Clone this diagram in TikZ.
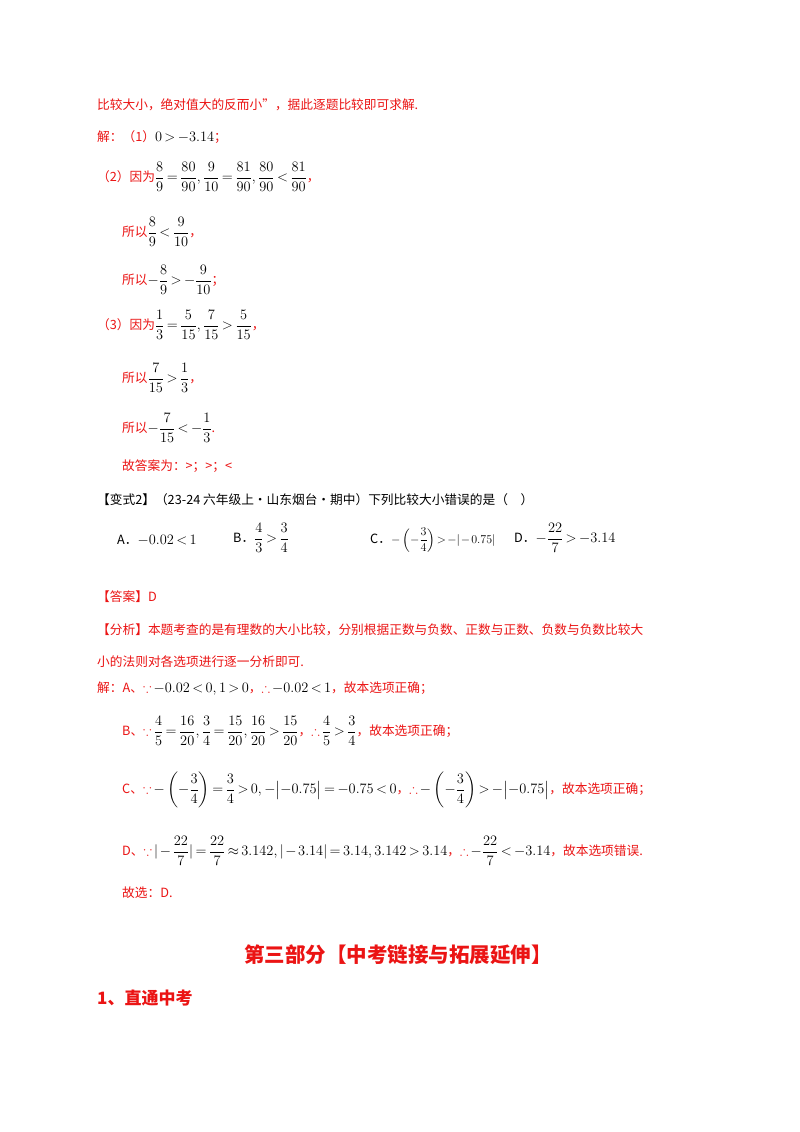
\documentclass[tikz,border=0pt]{standalone}
\usepackage{amsmath,amssymb}
\usepackage{fontspec}
\setmainfont{Noto Sans CJK SC}
\definecolor{rd}{RGB}{235,20,20}
\tikzset{t/.style={anchor=west,inner sep=0pt,font=\fontsize{12.7}{15}\selectfont,text=rd},
 k/.style={t,text=black}}
\newcommand{\bl}[1]{{\fontsize{15}{17}\selectfont\medmuskip=2mu\thickmuskip=3mu\textcolor{black}{$#1$}}}
\newcommand{\bs}[1]{{\fontsize{13}{15}\selectfont\medmuskip=1.5mu\thickmuskip=2mu\textcolor{black}{$#1$}}}
\newcommand{\rb}{\textcolor{rd}{$\because$}\,}
\newcommand{\rt}{\textcolor{rd}{$\therefore$}\,}
\begin{document}
\begin{tikzpicture}[x=1pt,y=-1pt]
\useasboundingbox[fill=white] (0,0) rectangle (800,1132);
\node[t] (l1) at (97,105) {比较大小，绝对值大的反而小”，据此逐题比较即可求解.};
\node[t] (l2) at (97,137) {解：（1）\bl{0>-3.14}；};
\node[t] (l3) at (97,177) {（2）因为\bl{\dfrac89=\dfrac{80}{90},\dfrac9{10}=\dfrac{81}{90},\dfrac{80}{90}<\dfrac{81}{90}}，};
\node[t] (l4) at (122,232) {所以\bl{\dfrac89<\dfrac9{10}}，};
\node[t] (l5) at (122,280) {所以\bl{-\dfrac89>-\dfrac9{10}}；};
\node[t] (l6) at (97,325) {（3）因为\bl{\dfrac13=\dfrac5{15},\dfrac7{15}>\dfrac5{15}}，};
\node[t] (l7) at (122,378) {所以\bl{\dfrac7{15}>\dfrac13}，};
\node[t] (l8) at (122,428) {所以\bl{-\dfrac7{15}<-\dfrac13}.};
\node[t] (l9) at (122,466) {故答案为：>；>；<};
\node[k] (q) at (97,500) {【变式2】（23-24 六年级上·山东烟台·期中）下列比较大小错误的是（\quad）};
\node[k] (oa) at (117,540) {A．\bl{-0.02<1}};
\node[k] (ob) at (233,538) {B．\bl{\dfrac43>\dfrac34}};
\node[k] (oc) at (370,540) {C．\bs{-\left(-\dfrac34\right)>-|-0.75|}};
\node[k] (od) at (514,538) {D．\bl{-\dfrac{22}7>-3.14}};
\node[t] (ans) at (97,597) {【答案】D};
\node[t] (an1) at (97,630) {【分析】本题考查的是有理数的大小比较，分别根据正数与负数、正数与正数、负数与负数比较大};
\node[t] (an2) at (97,662) {小的法则对各选项进行逐一分析即可.};
\node[t] (sa) at (97,689) {解：A、\rb\bl{-0.02<0,1>0}，\rt\bl{-0.02<1}，故本选项正确；};
\node[t] (sb) at (122,731) {B、\rb\bl{\dfrac45=\dfrac{16}{20},\dfrac34=\dfrac{15}{20},\dfrac{16}{20}>\dfrac{15}{20}}，\rt\bl{\dfrac45>\dfrac34}，故本选项正确；};
\node[t] (sc) at (122,790) {C、\rb\bl{-\left(-\dfrac34\right)=\dfrac34>0,-\bigl|-0.75\bigr|=-0.75<0}，\rt\bl{-\left(-\dfrac34\right)>-\bigl|-0.75\bigr|}，故本选项正确；};
\node[t] (sd) at (122,851) {D、\rb\bl{|-\dfrac{22}7|=\dfrac{22}7\approx3.142,|-3.14|=3.14,3.142>3.14}，\rt\bl{-\dfrac{22}7<-3.14}，故本选项错误.};
\node[t] (sel) at (122,893) {故选：D.};
\node[text=rd,inner sep=0pt,font=\fontsize{20.5}{22}\selectfont\bfseries] (h) at (398,955) {第三部分【中考链接与拓展延伸】};
\node[t,font=\fontsize{17}{19}\selectfont\bfseries] (h2) at (97,998) {1、直通中考};
\end{tikzpicture}
\end{document}
